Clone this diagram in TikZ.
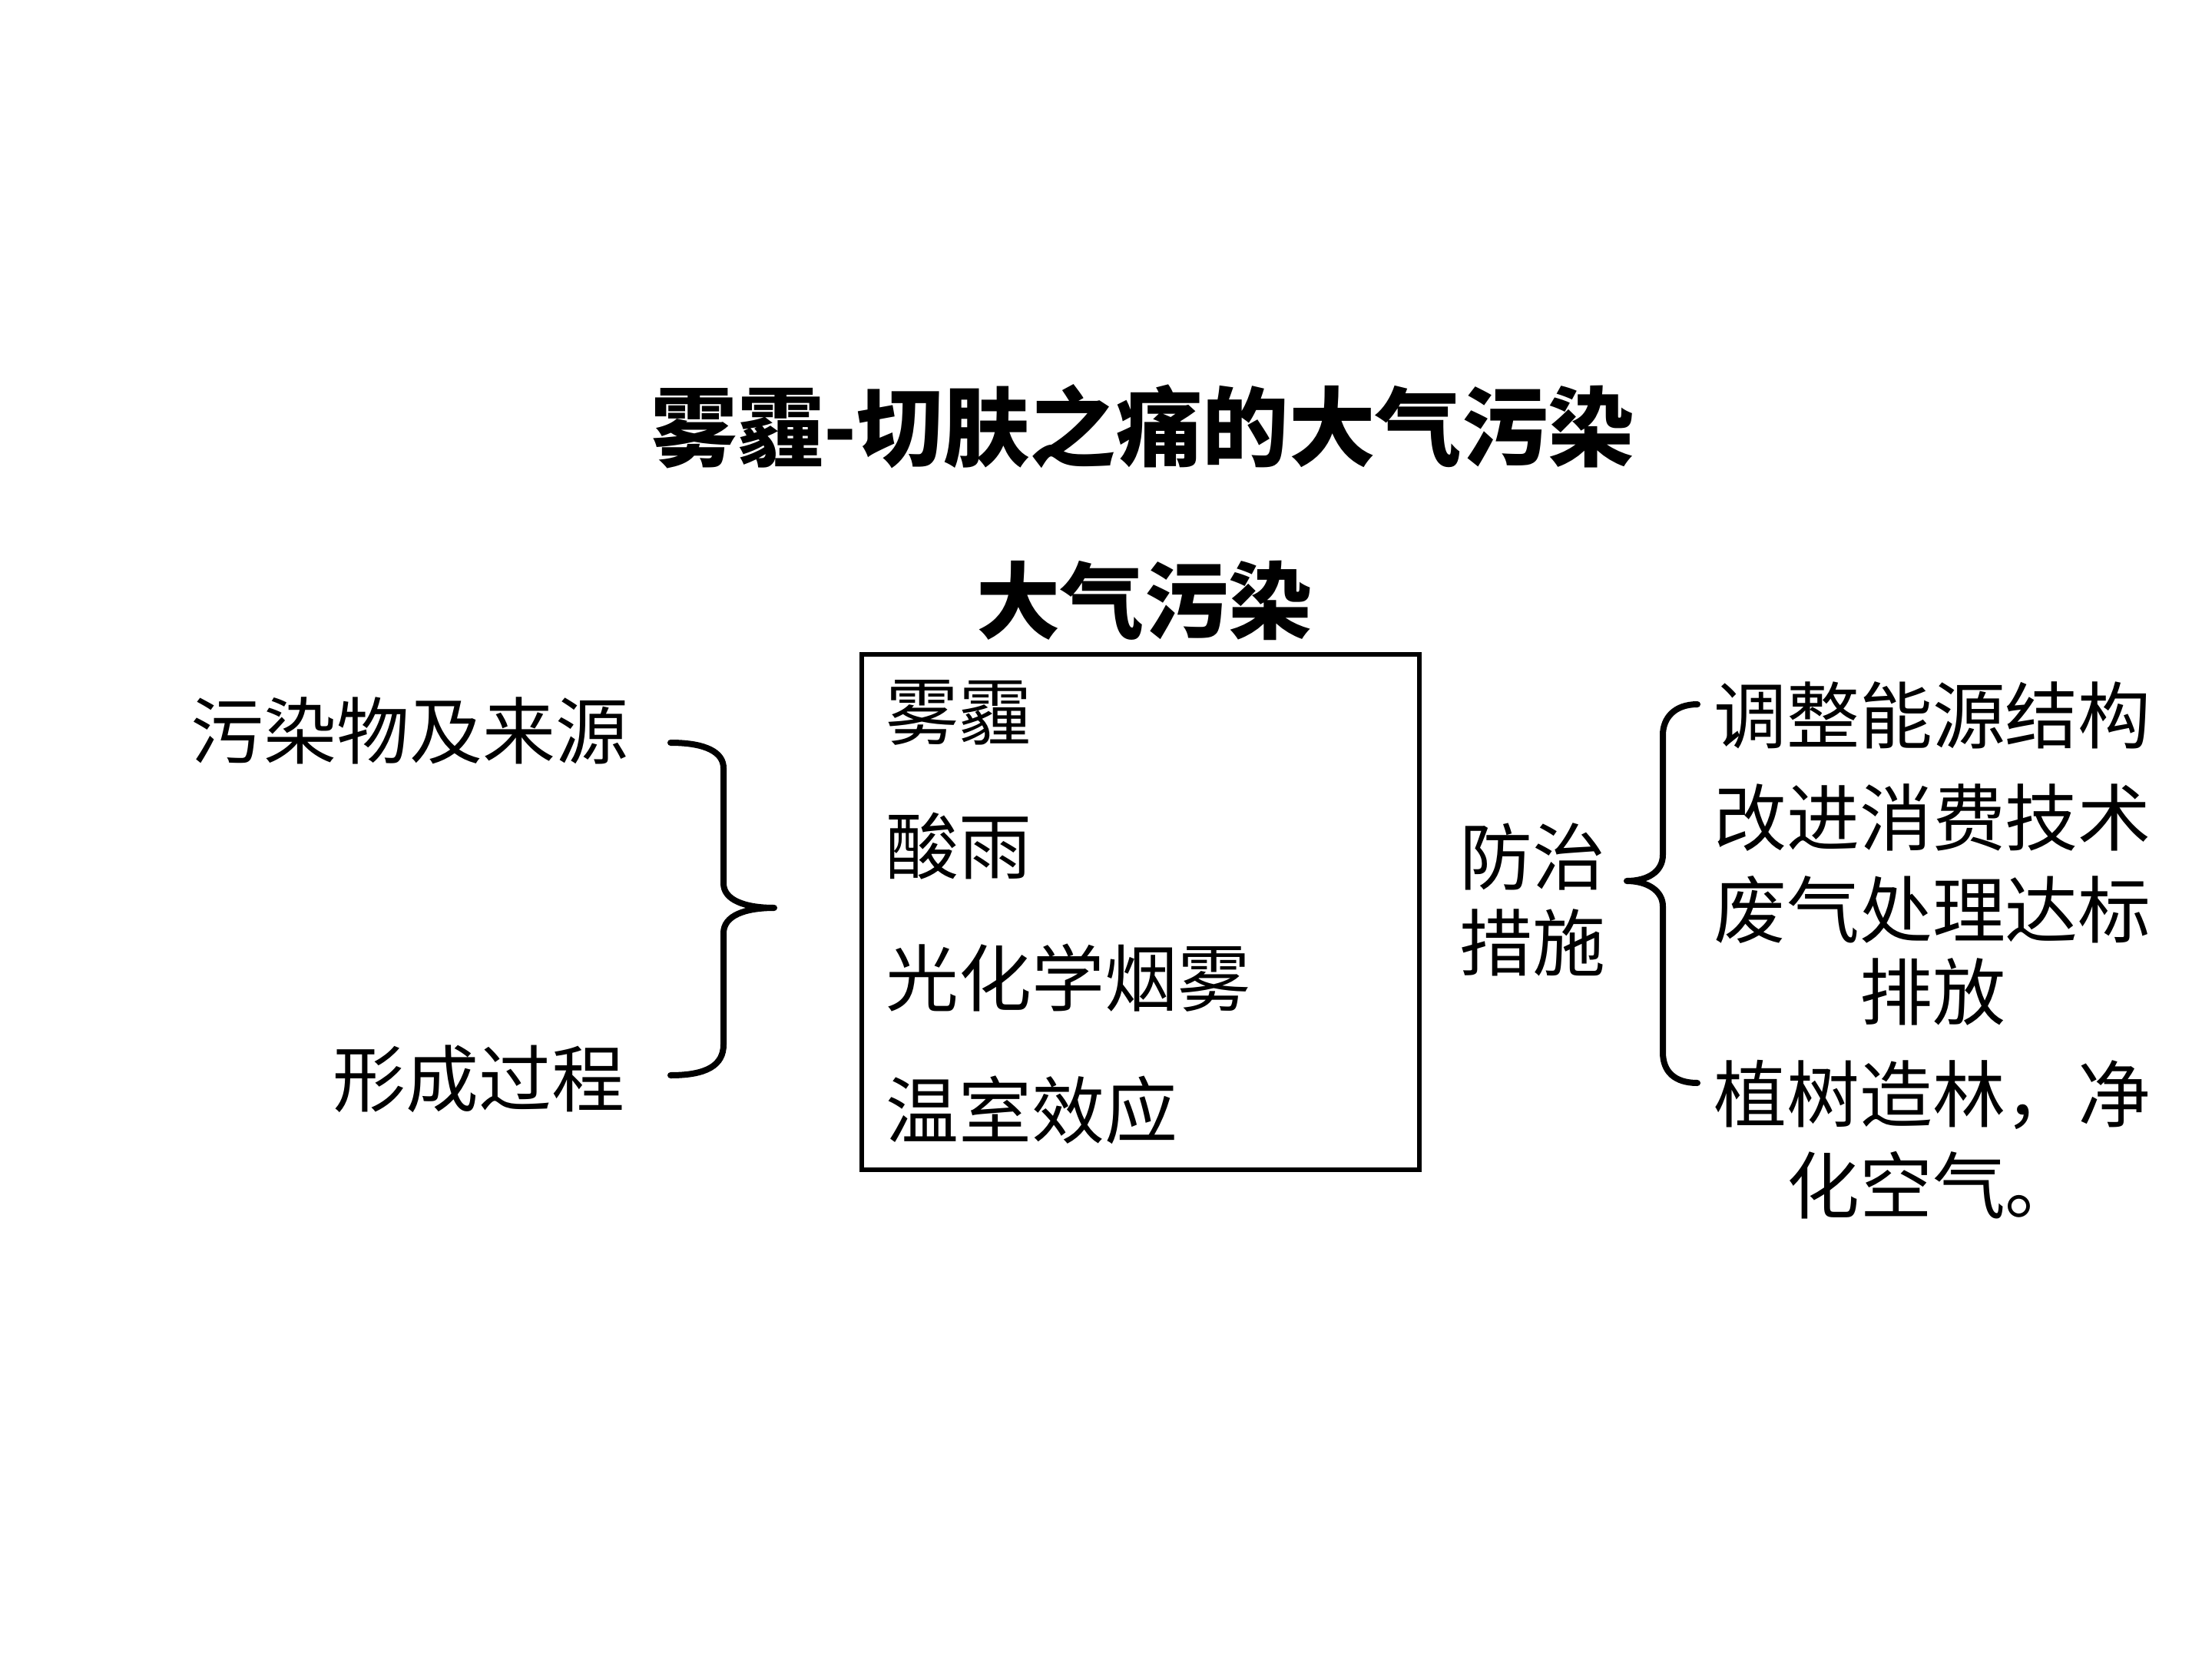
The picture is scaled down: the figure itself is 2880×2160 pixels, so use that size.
\documentclass[tikz,border=0pt]{standalone}
\usepackage{fontspec}
\setmainfont{Noto Sans CJK SC}
\begin{document}
\begin{tikzpicture}[x=0.01cm,y=-0.01cm,
  txt/.style={inner sep=0pt,font=\fontsize{27}{30}\selectfont},
  ttl/.style={inner sep=0pt,font=\fontsize{32}{36}\selectfont\bfseries},
  sub/.style={inner sep=0pt,font=\fontsize{31}{34}\selectfont\bfseries},
  brace/.style={line width=0.08cm,line cap=round,line join=round}]
\useasboundingbox[fill=white] (0,0) rectangle (2880,2160);
% titles
\node[ttl] (title) at (1488,555) {雾霾-切肤之痛的大气污染};
\node[sub] (sub) at (1490,782) {大气污染};
% box
\draw[line width=0.06cm] (1122,852) rectangle (1848,1523);
\node[txt,anchor=west] (b1) at (1153,928) {雾霾};
\node[txt,anchor=west] (b2) at (1153,1102) {酸雨};
\node[txt,anchor=west] (b3) at (1153,1273) {光化学烟雾};
\node[txt,anchor=west] (b4) at (1153,1445) {温室效应};
% left
\node[txt,anchor=east] (l1) at (819,951) {污染物及来源};
\node[txt,anchor=east] (l2) at (814,1405) {形成过程};
\coordinate (lt) at (873,967);
\coordinate (lb) at (873,1400);
\coordinate (ltip) at (1008,1182);
\draw[brace] (lt) .. controls (920,967) and (942,980) .. (942,1000) -- (942,1150)
  .. controls (942,1172) and (970,1182) .. (ltip)
  .. controls (970,1182) and (942,1192) .. (942,1215) -- (942,1360)
  .. controls (942,1387) and (920,1400) .. (lb);
% middle label
\node[txt,align=center] (m1) at (1995,1115) {防治};
\node[txt,align=center] (m2) at (1995,1227) {措施};
% right brace
\coordinate (rt) at (2210,917);
\coordinate (rb) at (2210,1410);
\coordinate (rtip) at (2118,1147);
\draw[brace] (rt) .. controls (2180,917) and (2165,935) .. (2165,957) -- (2165,1113)
  .. controls (2165,1135) and (2145,1147) .. (rtip)
  .. controls (2145,1147) and (2165,1160) .. (2165,1180) -- (2165,1370)
  .. controls (2165,1395) and (2180,1410) .. (rb);
% right texts
\node[txt] (r1) at (2516,931) {调整能源结构};
\node[txt] (r2) at (2516,1065) {改进消费技术};
\node[txt] (r3) at (2516,1185) {废气处理达标};
\node[txt] (r4) at (2516,1291) {排放};
\node[txt] (r5) at (2516,1425) {植树造林，净};
\node[txt] (r6) at (2516,1543) {化空气。};
\end{tikzpicture}
\end{document}
